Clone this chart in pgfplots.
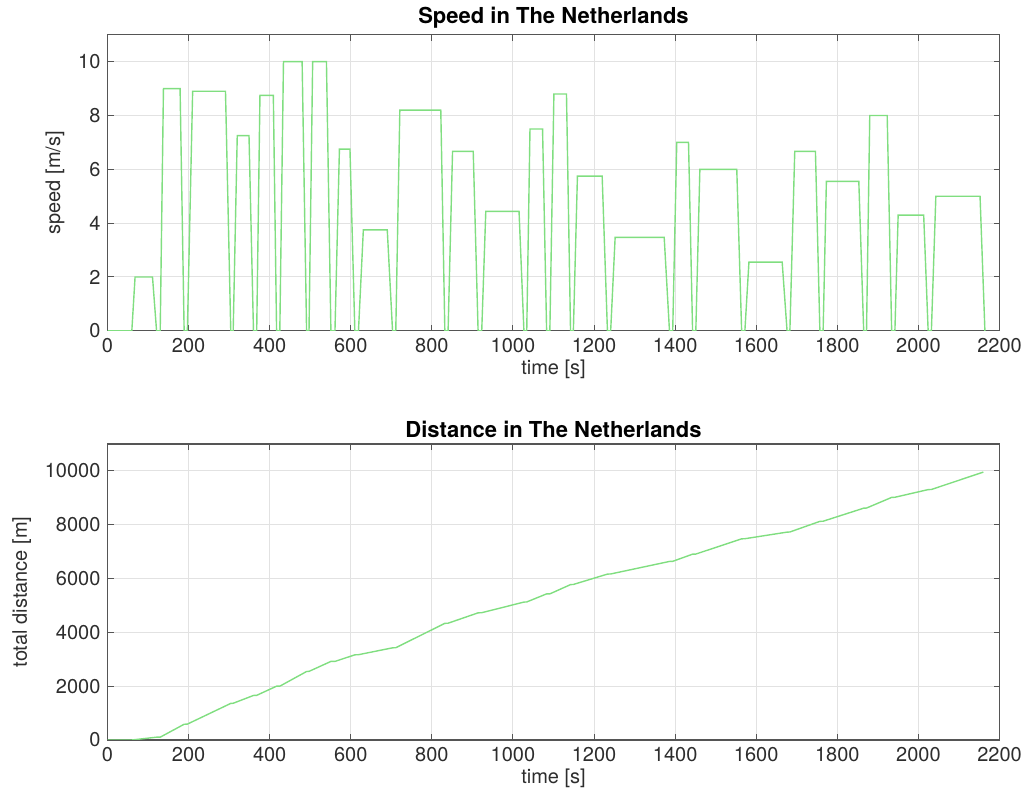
\documentclass[border=0pt]{standalone}
\usepackage{fontspec}
\setmainfont{TeX Gyre Heros}
\usepackage{pgfplots}
\pgfplotsset{compat=1.18}

\definecolor{trace}{RGB}{128,222,128}
\definecolor{axisgray}{RGB}{85,85,85}
\definecolor{textgray}{RGB}{45,45,45}
\definecolor{gridgray}{RGB}{226,226,226}

% speed profile: accelerate, cruise, brake, stand still
\pgfplotstableread{
t v
0 0
60 0
68 2
111 2
121 0
130 0
138 9
179 9
189 0
197 0
210 8.9
291 8.9
304 0
310 0
320 7.25
349 7.25
360 0
368 0
376 8.75
409 8.75
417 0
425 0
434 10
480 10
491 0
497 0
506 10
540 10
551 0
561 0
572 6.75
598 6.75
610 0
619 0
631 3.75
690 3.75
703 0
711 0
721 8.2
822 8.2
832 0
840 0
851 6.67
902 6.67
914 0
923 0
933 4.44
1015 4.44
1027 0
1034 0
1042 7.5
1073 7.5
1083 0
1091 0
1101 8.8
1132 8.8
1142 0
1149 0
1159 5.75
1220 5.75
1233 0
1241 0
1252 3.47
1373 3.47
1386 0
1394 0
1404 7
1433 7
1443 0
1451 0
1461 6
1552 6
1564 0
1572 0
1582 2.55
1664 2.55
1676 0
1683 0
1695 6.67
1746 6.67
1757 0
1765 0
1773 5.55
1853 5.55
1865 0
1872 0
1880 8
1923 8
1934 0
1942 0
1950 4.3
2013 4.3
2024 0
2032 0
2043 5
2152 5
2164 0
}\speedtable

% cumulative distance at the start and end of each run
\pgfplotstableread{
t d
0 0
60 0
121 105
130 105
189 585
197 590
304 1360
310 1365
360 1655
368 1660
417 2000
425 2000
491 2545
497 2550
551 2920
561 2920
610 3165
619 3170
703 3425
711 3430
832 4335
840 4340
914 4725
923 4730
1027 5125
1034 5130
1083 5430
1091 5430
1142 5775
1149 5780
1233 6165
1241 6170
1386 6635
1394 6640
1443 6905
1451 6910
1564 7475
1572 7480
1676 7725
1683 7730
1757 8125
1765 8130
1865 8615
1872 8620
1934 9015
1942 9020
2024 9305
2032 9310
2160 9955
}\disttable

\pgfplotsset{
  mlaxis/.style={
    scale only axis,
    width=446pt, height=148pt,
    xmin=0, xmax=2200,
    xtick={0,200,...,2200},
    axis line style={axisgray, line width=0.6pt},
    tick style={axisgray, line width=0.5pt},
    major tick length=3pt,
    tick align=inside,
    grid=major,
    major grid style={gridgray, line width=0.5pt},
    tick label style={font=\fontsize{10}{12}\selectfont, text=textgray},
    label style={font=\fontsize{10}{12}\selectfont, text=textgray},
    title style={font=\bfseries\fontsize{11}{13}\selectfont, text=black, yshift=-6.5pt},
    /pgf/number format/assume math mode=true,
    /pgf/number format/1000 sep={},
    scaled ticks=false,
    xlabel={time [s]},
    xlabel style={yshift=3pt},
  }
}

\begin{document}
\begin{tikzpicture}[x=1pt,y=1pt]
\path[use as bounding box] (0,0) rectangle (513.5,398);

\begin{axis}[mlaxis,
  at={(53.75pt,232.6pt)}, anchor=south west,
  ymin=0, ymax=11, ytick={0,2,...,10},
  ylabel={speed [m/s]},
  title={Speed in The Netherlands}]
\addplot[trace, line width=0.7pt] table[x=t, y=v] {\speedtable};
\end{axis}

\begin{axis}[mlaxis,
  at={(53.75pt,28pt)}, anchor=south west,
  ymin=0, ymax=11000, ytick={0,2000,...,10000},
  ylabel={total distance [m]},
  title={Distance in The Netherlands}]
\addplot[trace, line width=0.7pt] table[x=t, y=d] {\disttable};
\end{axis}
\end{tikzpicture}
\end{document}
